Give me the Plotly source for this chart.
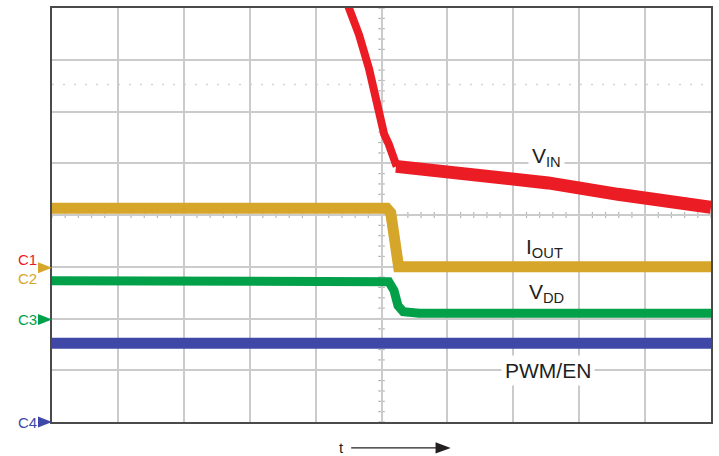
"""Scope capture: VIN / IOUT / VDD / PWM-EN at power-down, redrawn with Plotly."""

import plotly.graph_objects as go

# Trace values, in scope divisions (10 x 8 graticule)
vin_fall_t = [4.45, 4.51, 4.66, 4.81, 4.93, 4.99, 5.04, 5.11, 5.19, 5.23]
vin_fall_v = [8.19, 8.00, 7.48, 6.83, 6.19, 5.94, 5.56, 5.37, 5.10, 4.94]

vin_decay_t = [5.22, 5.57, 6.48, 7.53, 8.59, 9.50, 10.0]
vin_decay_v = [4.94, 4.90, 4.79, 4.62, 4.40, 4.25, 4.15]

iout_t = [0.0, 5.08, 5.14, 5.19, 5.22, 5.26, 10.0]
iout_v = [4.13, 4.13, 4.04, 3.50, 3.08, 3.00, 3.00]

vdd_t = [0.0, 5.11, 5.19, 5.25, 5.33, 5.57, 10.0]
vdd_v = [2.73, 2.71, 2.54, 2.25, 2.13, 2.10, 2.10]

pwm_t = [0.0, 10.0]
pwm_v = [1.52, 1.52]

RED = "#ec1c24"
GOLD = "#d6a62a"
GREEN = "#03a04a"
BLUE = "#3f48a6"
GRID = "#cbcbcb"
TEXT = "#231f20"
FONT = "Arial, Liberation Sans, Helvetica, sans-serif"

fig = go.Figure()

for name, t, v, color, width in [
    ("PWM/EN", pwm_t, pwm_v, BLUE, 11),
    ("VDD", vdd_t, vdd_v, GREEN, 9),
    ("IOUT", iout_t, iout_v, GOLD, 11),
    ("VIN", vin_fall_t, vin_fall_v, RED, 8),
    ("VIN", vin_decay_t, vin_decay_v, RED, 13),
]:
    fig.add_trace(go.Scatter(
        x=t, y=v, name=name, mode="lines",
        line=dict(color=color, width=width),
        hoverinfo="skip",
    ))

shapes = []
# centre graticule minor ticks
for i in range(51):
    xv = i * 0.2
    shapes.append(dict(type="line", xref="x", yref="y", x0=xv, x1=xv, y0=3.94, y1=4.06,
                       line=dict(color="#b5b5b5", width=1.2), layer="below"))
for i in range(41):
    yv = i * 0.2
    shapes.append(dict(type="line", xref="x", yref="y", x0=4.95, x1=5.05, y0=yv, y1=yv,
                       line=dict(color="#b5b5b5", width=1.2), layer="below"))
# faint cursor line
shapes.append(dict(type="line", xref="x", yref="y", x0=0, x1=10, y0=6.52, y1=6.52,
                   line=dict(color="#d6d6d6", width=1.5, dash="2px,9px"), layer="below"))

# channel ground markers on the left edge
for yp, color in [(0.3726, GOLD), (0.2476, GREEN), (0.0, BLUE)]:
    shapes.append(dict(
        type="path", xref="paper", yref="paper",
        path=f"M -0.0212 {yp + 0.013} L 0 {yp} L -0.0212 {yp - 0.013} Z",
        fillcolor=color, line=dict(width=0),
    ))

# time arrow under the plot
shapes.append(dict(type="line", xref="paper", yref="paper", x0=0.454, x1=0.59,
                   y0=-0.0625, y1=-0.0625, line=dict(color=TEXT, width=1.3)))
shapes.append(dict(type="path", xref="paper", yref="paper",
                   path="M 0.582 -0.049 L 0.605 -0.0625 L 0.582 -0.076 Z",
                   fillcolor=TEXT, line=dict(width=0)))

annotations = [
    dict(x=7.50, y=5.12, text="V<sub>IN</sub>", bgcolor="white", borderpad=3),
    dict(x=7.47, y=3.37, text="I<sub>OUT</sub>"),
    dict(x=7.50, y=2.50, text="V<sub>DD</sub>"),
    dict(x=7.53, y=1.00, text="PWM/EN", bgcolor="white", borderpad=3),
]
for a in annotations:
    a.update(xref="x", yref="y", showarrow=False,
             font=dict(family=FONT, size=21, color=TEXT))

for label, yp, color in [("C1", 0.392, RED), ("C2", 0.346, GOLD),
                         ("C3", 0.2476, GREEN), ("C4", -0.0024, BLUE)]:
    annotations.append(dict(
        xref="paper", yref="paper", x=-0.019, y=yp, xanchor="right", yanchor="middle",
        text=label, showarrow=False, font=dict(family=FONT, size=15, color=color),
    ))

annotations.append(dict(
    xref="paper", yref="paper", x=0.44, y=-0.0625, xanchor="center", yanchor="middle",
    text="t", showarrow=False, font=dict(family=FONT, size=15, color=TEXT),
))

fig.update_layout(
    width=719,
    height=456,
    margin=dict(l=52, r=6, t=6, b=34),
    plot_bgcolor="white",
    paper_bgcolor="white",
    showlegend=False,
    shapes=shapes,
    annotations=annotations,
    xaxis=dict(
        range=[0, 10], dtick=1, tick0=0,
        showgrid=True, gridcolor=GRID, gridwidth=2,
        showticklabels=False, ticks="", zeroline=False,
        showline=True, mirror=True, linecolor="#4a4a4a", linewidth=2,
    ),
    yaxis=dict(
        range=[0, 8], dtick=1, tick0=0,
        showgrid=True, gridcolor=GRID, gridwidth=2,
        showticklabels=False, ticks="", zeroline=False,
        showline=True, mirror=True, linecolor="#4a4a4a", linewidth=2,
    ),
)

fig.write_html(
    "out.html",
    config={"displayModeBar": False},
    post_script="document.body.style.margin='0';",
)
